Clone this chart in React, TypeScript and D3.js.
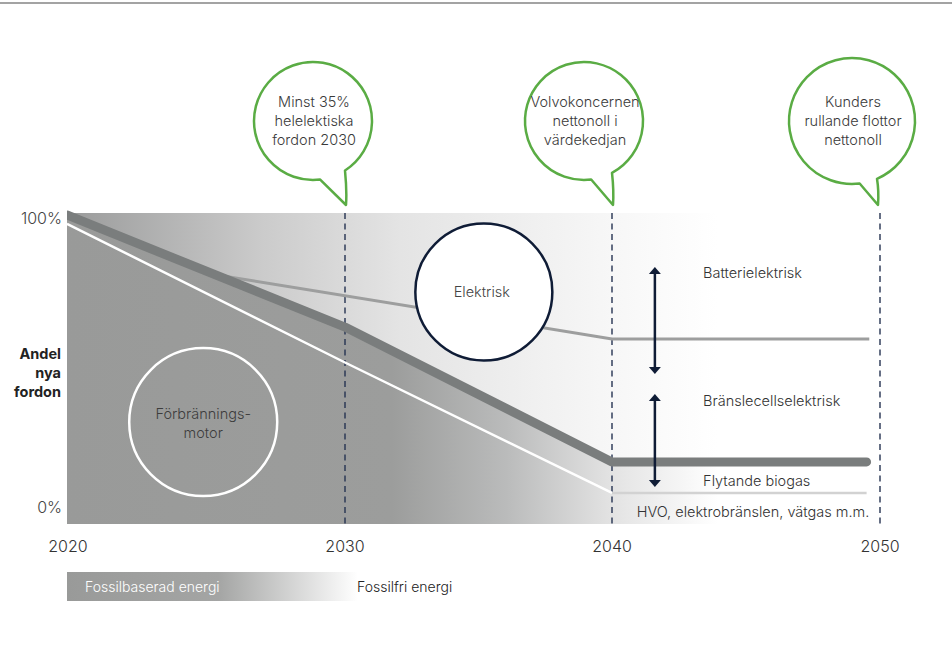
import React, { useEffect } from 'react';
import * as d3 from 'd3';

// x positions of the decades are not evenly spaced in the original artwork
const yearTicks = [2020, 2030, 2040, 2050];
const shareTicks = [0, 100];
const shareTickLabels = ['0%', '100%'];

// thick boundary: combustion engines vs electric
const boundaryYears = [2020, 2030, 2040, 2049.5];
const combustionShare = [100, 62, 16.3, 16.3];
// white boundary: liquid biogas vs HVO etc.
const biogasShare = [97, 50, 5.8, 5.8];
// battery vs fuel-cell split
const batteryYears = [2025.5, 2040, 2049.6];
const batteryShare = [79.5, 58, 58];

const milestoneYears = [2030, 2040, 2050];
const milestoneTexts = [
  ['Minst 35%', 'helelektiska', 'fordon 2030'],
  ['Volvokoncernen', 'nettonoll i', 'värdekedjan'],
  ['Kunders', 'rullande flottor', 'nettonoll'],
];

const segmentLabels = ['Batterielektrisk', 'Bränslecellselektrisk', 'Flytande biogas', 'HVO, elektrobränslen, vätgas m.m.'];
const segmentLabelShare = [80.5, 37, 9.8, -0.6];

const arrowYear = 2041.6;
const arrowFrom = [82.4, 39.3];
const arrowTo = [46.1, 7.8];

const FONT = 'Inter, "Noto Sans", sans-serif';
const NAVY = '#0f1c36';
const GREEN = '#5aac44';

export default function App() {
  useEffect(() => {
    document.body.style.margin = '0';
  }, []);

  const width = 952;
  const height = 651;
  const plotTop = 213;
  const plotBottom = 524;

  const x = d3.scaleLinear().domain(yearTicks).range([67, 345, 612, 880]);
  const y = d3.scaleLinear().domain([0, 100]).range([510, 215]);

  const thick = boundaryYears.map((yr, i) => [yr, combustionShare[i]] as [number, number]);
  const white = boundaryYears.map((yr, i) => [yr, biogasShare[i]] as [number, number]);
  const battery = batteryYears.map((yr, i) => [yr, batteryShare[i]] as [number, number]);

  const line = d3.line<[number, number]>().x(d => x(d[0])).y(d => y(d[1]));
  const areaBelow = d3.area<[number, number]>().x(d => x(d[0])).y0(plotBottom).y1(d => y(d[1]));

  const belowData: [number, number][] = [...thick.slice(0, 3), [2050, combustionShare[3]]];

  const bubble = (tipX: number, tipY: number, r: number, dx: number) => {
    const cx = tipX - dx;
    const cy = tipY - 84;
    const cosR = Math.min(0.95, (dx - 1) / r);
    const aR = Math.acos(cosR);
    const aL = (83 * Math.PI) / 180;
    const rx = cx + r * Math.cos(aR);
    const ry = cy + r * Math.sin(aR);
    const lx = cx + r * Math.cos(aL);
    const ly = cy + r * Math.sin(aL);
    return {
      cx,
      cy,
      d: `M${lx},${ly} A${r},${r} 0 1 1 ${rx},${ry} Q${tipX + 1},${tipY - 14} ${tipX},${tipY} L${lx},${ly} Z`,
    };
  };

  const arrowHead = (ax: number, ay: number, dir: number) =>
    `M${ax},${ay} L${ax - 6},${ay + dir * 7} L${ax + 6},${ay + dir * 7} Z`;

  return (
    <svg width={width} height={height} style={{ display: 'block', fontFamily: FONT, fontWeight: 300 }}>
      <defs>
        <linearGradient id="topGrad" gradientUnits="userSpaceOnUse" x1={67} x2={880} y1={0} y2={0}>
          <stop offset="0" stopColor="#9a9b9b" />
          <stop offset="0.24" stopColor="#cbcbcb" />
          <stop offset="0.41" stopColor="#e4e4e4" />
          <stop offset="0.67" stopColor="#f7f7f7" />
          <stop offset="0.8" stopColor="#ffffff" />
        </linearGradient>
        <linearGradient id="bottomGrad" gradientUnits="userSpaceOnUse" x1={67} x2={880} y1={0} y2={0}>
          <stop offset="0" stopColor="#999a99" />
          <stop offset="0.4" stopColor="#9c9d9c" />
          <stop offset="0.54" stopColor="#babbbb" />
          <stop offset="0.67" stopColor="#e3e3e3" />
          <stop offset="0.8" stopColor="#ffffff" />
        </linearGradient>
        <linearGradient id="legendGrad" x1="0" x2="1" y1="0" y2="0">
          <stop offset="0" stopColor="#999a99" />
          <stop offset="0.52" stopColor="#a4a5a4" />
          <stop offset="1" stopColor="#ffffff" />
        </linearGradient>
        <clipPath id="plotClip">
          <rect x={67} y={0} width={width - 67} height={height} />
        </clipPath>
      </defs>

      <line x1={0} x2={width} y1={3} y2={3} stroke="#858585" strokeWidth={1.5} />

      {/* background fills */}
      <rect x={67} y={plotTop} width={880 - 67} height={plotBottom - plotTop} fill="url(#topGrad)" />
      <path d={areaBelow(belowData) || ''} fill="url(#bottomGrad)" />

      {/* dashed milestone lines */}
      {milestoneYears.map(yr => (
        <line key={yr} x1={x(yr)} x2={x(yr)} y1={plotTop} y2={plotBottom}
          stroke="#253352" strokeWidth={1.4} strokeDasharray="6 4.5" />
      ))}

      {/* boundaries */}
      <path d={line(battery) || ''} fill="none" stroke="#9d9e9e" strokeWidth={3} />
      <path d={line(white.slice(0, 3)) || ''} fill="none" stroke="#ffffff" strokeWidth={2.5} />
      <path d={line(white.slice(2)) || ''} fill="none" stroke="#d2d2d2" strokeWidth={2.5} />
      <g clipPath="url(#plotClip)">
        <path d={line(thick) || ''} fill="none" stroke="#7a7d7d" strokeWidth={9}
          strokeLinecap="round" strokeLinejoin="round" />
      </g>

      {/* region circles */}
      <circle cx={x(2024.9)} cy={y(29.8)} r={74} fill="none" stroke="#ffffff" strokeWidth={2.5} />
      <text x={x(2024.9)} textAnchor="middle" fontSize={14.5} fill="#3d3d3d">
        <tspan x={x(2024.9)} y={y(29.8) - 3}>Förbrännings-</tspan>
        <tspan x={x(2024.9)} y={y(29.8) + 16}>motor</tspan>
      </text>
      <circle cx={x(2035.2)} cy={y(73.9)} r={68.5} fill="#ffffff" stroke={NAVY} strokeWidth={2.5} />
      <text x={x(2035.2) - 2} y={y(73.9) + 5} textAnchor="middle" fontSize={14.5} fill="#444">Elektrisk</text>

      {/* arrows */}
      {arrowFrom.map((v, i) => {
        const ax = x(arrowYear);
        const y1 = y(v);
        const y2 = y(arrowTo[i]);
        return (
          <g key={i} fill={NAVY}>
            <line x1={ax} x2={ax} y1={y1 + 4} y2={y2 - 4} stroke={NAVY} strokeWidth={2.5} />
            <path d={arrowHead(ax, y1, 1)} />
            <path d={arrowHead(ax, y2, -1)} />
          </g>
        );
      })}

      {/* segment labels */}
      {segmentLabels.map((t, i) => {
        const last = i === segmentLabels.length - 1;
        return (
          <text key={t} x={last ? x(2049.6) : x(2043.4)} y={y(segmentLabelShare[i]) + 5}
            textAnchor={last ? 'end' : 'start'} fontSize={14.5} fill="#333">{t}</text>
        );
      })}

      {/* y axis */}
      {shareTicks.map((v, i) => (
        <text key={v} x={62} y={y(v) + (v === 100 ? 9 : 3)} textAnchor="end" fontSize={16} fill="#444">
          {shareTickLabels[i]}
        </text>
      ))}
      <text textAnchor="end" fontSize={14.5} fontWeight={700} fill="#222">
        <tspan x={61} y={359}>Andel</tspan>
        <tspan x={61} y={378}>nya</tspan>
        <tspan x={61} y={397}>fordon</tspan>
      </text>

      {/* x axis */}
      {yearTicks.map(yr => (
        <text key={yr} x={yr === 2020 ? x(yr) + 1 : x(yr)} y={552} textAnchor="middle" fontSize={16} fill="#333">{yr}</text>
      ))}

      {/* energy legend */}
      <rect x={67} y={572} width={291} height={29} fill="url(#legendGrad)" />
      <text x={85} y={592} fontSize={14} fill="#ffffff">Fossilbaserad energi</text>
      <text x={357} y={592} fontSize={14} fill="#222">Fossilfri energi</text>

      {/* milestone bubbles */}
      {milestoneYears.map((yr, i) => {
        const tipX = i === 2 ? x(yr) - 2 : x(yr) + 1;
        const b = bubble(tipX, 205, i === 2 ? 63 : 59, i === 0 ? 33 : i === 1 ? 29 : 26);
        return (
          <g key={yr}>
            <path d={b.d} fill="#ffffff" stroke={GREEN} strokeWidth={2.5} strokeLinejoin="round" />
            <text textAnchor="middle" fontSize={14.5} fill="#3a3a3a">
              {milestoneTexts[i].map((t, j) => (
                <tspan key={j} x={b.cx + 1} y={b.cy - 14 + j * 19}>{t}</tspan>
              ))}
            </text>
          </g>
        );
      })}
    </svg>
  );
}
